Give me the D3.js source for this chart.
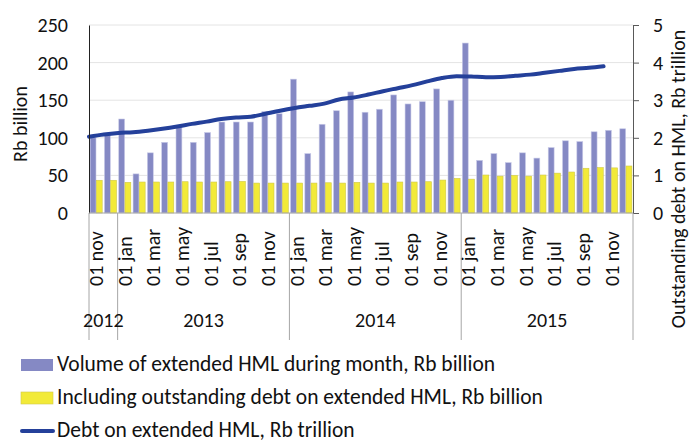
<!DOCTYPE html>
<html>
<head>
<meta charset="utf-8">
<script src="https://cdn.jsdelivr.net/npm/d3@7"></script>
<style>
  body { margin: 0; background: #fff; }
  svg text { font-family: Carlito, Calibri, Lato, sans-serif; fill: #111; }
</style>
</head>
<body>
<svg id="chart" width="692" height="440"></svg>
<script>
// months Nov 2012 .. Dec 2015
var months = ["01 nov","01 dec",
  "01 jan","01 feb","01 mar","01 apr","01 may","01 jun","01 jul","01 aug","01 sep","01 oct","01 nov","01 dec",
  "01 jan","01 feb","01 mar","01 apr","01 may","01 jun","01 jul","01 aug","01 sep","01 oct","01 nov","01 dec",
  "01 jan","01 feb","01 mar","01 apr","01 may","01 jun","01 jul","01 aug","01 sep","01 oct","01 nov","01 dec"]
var years = ["2012", "2013", "2014", "2015"]
var yearMonths = [2, 12, 12, 12]

// Rb billion
var volume = [100,103,125,52,80,94,115,94,107,121,121,121,135,132,
  178,79,118,136,161,134,138,157,145,148,165,150,
  226,70,79,67,80,73,87,96,95,108,110,112]
var outstanding = [43.5,43.5,40.8,41.2,41.2,41.2,41.6,41.2,41.2,41.6,42,39.8,39.8,39.8,
  39.8,39.8,40.2,39.8,40.8,39.8,39.8,41.2,41.2,41.6,43.8,46,
  45,50.5,49,50,49,50.5,53,54.5,59.5,60.4,60,62.5]
// Rb trillion (Nov 2012 .. Oct 2015)
var debt = [2.03,2.09,2.13,2.15,2.19,2.24,2.30,2.37,2.43,2.50,2.54,2.56,2.64,2.72,
  2.79,2.85,2.91,3.02,3.07,3.15,3.24,3.32,3.40,3.50,3.59,3.64,
  3.63,3.61,3.62,3.65,3.68,3.73,3.78,3.83,3.86,3.90]

var leftTicks = [0, 50, 100, 150, 200, 250]
var rightTicks = [0, 1, 2, 3, 4, 5]
var legendNames = ["Volume of extended HML during month, Rb billion",
  "Including outstanding debt on extended HML, Rb billion",
  "Debt on extended HML, Rb trillion"]

var margin = {top: 25, right: 59, bottom: 227, left: 89}
var width = 692 - margin.left - margin.right,
    height = 440 - margin.top - margin.bottom

var svg = d3.select("#chart")
var g = svg.append("g")
  .attr("transform", "translate(" + margin.left + "," + margin.top + ")")

// ---------------------------//
//       AXIS  AND SCALE      //
// ---------------------------//
var idx = d3.range(months.length)

var x = d3.scaleBand().domain(idx).range([0, width]).paddingInner(0).paddingOuter(0)
var xInner = d3.scaleBand().domain(["vol", "out"]).range([0, x.bandwidth()])
  .paddingInner(0.05).paddingOuter(0.18)
// the line sits on its own axis, points on the tick marks
var xLine = d3.scalePoint().domain(idx).range([0, width])

var y = d3.scaleLinear().domain([0, 250]).range([height, 0])
var y2 = d3.scaleLinear().domain([0, 5]).range([height, 0])

// gridlines
g.append("g")
  .selectAll("line")
  .data(leftTicks.slice(1))
  .enter()
  .append("line")
    .attr("x1", 0)
    .attr("x2", width)
    .attr("y1", function(d) { return y(d) })
    .attr("y2", function(d) { return y(d) })
    .style("stroke", "#e4e4e4")

// ---------------------------//
//       BARS                 //
// ---------------------------//
g.append("g")
  .selectAll("rect")
  .data(volume)
  .enter()
  .append("rect")
    .attr("x", function(d, i) { return x(i) + xInner("vol") })
    .attr("y", function(d) { return y(d) })
    .attr("width", xInner.bandwidth())
    .attr("height", function(d) { return height - y(d) })
    .style("fill", "#8589c4")
    .style("stroke", "#c9cbe8")
    .style("stroke-width", 0.6)

g.append("g")
  .selectAll("rect")
  .data(outstanding)
  .enter()
  .append("rect")
    .attr("x", function(d, i) { return x(i) + xInner("out") })
    .attr("y", function(d) { return y(d) })
    .attr("width", xInner.bandwidth())
    .attr("height", function(d) { return height - y(d) })
    .style("fill", "#f2ea38")
    .style("stroke", "#cfc84a")
    .style("stroke-width", 0.6)

// ---------------------------//
//       LINE                 //
// ---------------------------//
var line = d3.line()
  .x(function(d, i) { return xLine(i) })
  .y(function(d) { return y2(d) })
  .curve(d3.curveMonotoneX)

g.append("path")
  .datum(debt)
  .attr("d", line)
  .style("fill", "none")
  .style("stroke", "#24409a")
  .style("stroke-width", 4)
  .style("stroke-linecap", "round")

// left axis
var yAxis = d3.axisLeft(y).tickValues(leftTicks).tickSize(0).tickPadding(21)
var ya = g.append("g").call(yAxis)
ya.select(".domain").style("stroke", "#222")
ya.selectAll("text").style("font-size", "20px").style("font-family", null)

// right axis
var yAxis2 = d3.axisRight(y2).tickValues(rightTicks).tickFormat(d3.format("d"))
  .tickSize(6).tickPadding(14)
var yb = g.append("g").attr("transform", "translate(" + width + ",0)").call(yAxis2)
yb.select(".domain").style("stroke", "#595959")
yb.selectAll("line").style("stroke", "#595959")
yb.selectAll("text").style("font-size", "20px")

// bottom axis line
g.append("line")
  .attr("x1", 0).attr("x2", width)
  .attr("y1", height).attr("y2", height)
  .style("stroke", "#a6a6a6")

// month labels, every second month
g.append("g")
  .selectAll("text")
  .data(idx.filter(function(i) { return i % 2 == 0 }))
  .enter()
  .append("text")
    .attr("transform", function(i) {
      return "translate(" + (x(i) + x.bandwidth() / 2) + "," + (height + 73) + ") rotate(-90)" })
    .attr("dy", "0.35em")
    .style("font-size", "20px")
    .text(function(i) { return months[i] })

// year groups and separators
var starts = [0]
yearMonths.forEach(function(n, i) { starts.push(starts[i] + n) })

g.append("g")
  .selectAll("line")
  .data(starts)
  .enter()
  .append("line")
    .attr("x1", function(s) { return s < months.length ? x(s) : width })
    .attr("x2", function(s) { return s < months.length ? x(s) : width })
    .attr("y1", height)
    .attr("y2", height + 127)
    .style("stroke", "#a6a6a6")

g.append("g")
  .selectAll("text")
  .data(years)
  .enter()
  .append("text")
    .attr("x", function(d, i) {
      var a = x(starts[i]), b = starts[i + 1] < months.length ? x(starts[i + 1]) : width
      return (a + b) / 2 })
    .attr("y", height + 114)
    .attr("text-anchor", "middle")
    .style("font-size", "20px")
    .text(function(d) { return d })

// axis titles
svg.append("text")
  .attr("transform", "translate(27," + 124 + ") rotate(-90)")
  .attr("text-anchor", "middle")
  .style("font-size", "20px")
  .text("Rb billion")

svg.append("text")
  .attr("transform", "translate(685," + 179 + ") rotate(-90)")
  .attr("text-anchor", "middle")
  .style("font-size", "20px")
  .text("Outstanding debt on HML, Rb trillion")

// ---------------------------//
//       LEGEND               //
// ---------------------------//
var legend = svg.append("g").attr("transform", "translate(21,365)")
var rowH = 33

legend.append("rect")
  .attr("x", 0).attr("y", -6).attr("width", 32).attr("height", 12)
  .style("fill", "#8589c4")
legend.append("rect")
  .attr("x", 0).attr("y", rowH - 6).attr("width", 32).attr("height", 12)
  .style("fill", "#f2ea38").style("stroke", "#cfc84a").style("stroke-width", 0.6)
legend.append("line")
  .attr("x1", 1).attr("x2", 32).attr("y1", 2 * rowH).attr("y2", 2 * rowH)
  .style("stroke", "#24409a").style("stroke-width", 4).style("stroke-linecap", "round")

legend.selectAll("legtext")
  .data(legendNames)
  .enter()
  .append("text")
    .attr("x", 36)
    .attr("y", function(d, i) { return i * rowH + 6 })
    .style("font-size", "21.5px")
    .text(function(d) { return d })
</script>
</body>
</html>
